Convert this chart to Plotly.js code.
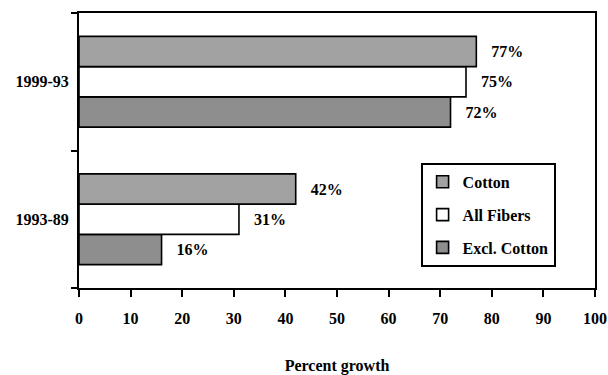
<!DOCTYPE html>
<html>
<head>
<meta charset="utf-8">
<script src="https://cdn.plot.ly/plotly-3.0.1.min.js"></script>
<style>html,body{margin:0;padding:0;background:#fff;}#chart{width:608px;height:375px;}</style>
</head>
<body>
<div id="chart"></div>
<script>
const categories = ['1993-89', '1999-93'];
const seriesNames = ['Excl. Cotton', 'All Fibers', 'Cotton'];
const exclCotton = [16, 72];
const allFibers = [31, 75];
const cotton = [42, 77];
const xTickVals = [0, 10, 20, 30, 40, 50, 60, 70, 80, 90, 100];
const xTitle = 'Percent growth';

const fills = ['#8e8e8e', '#ffffff', '#a2a2a2'];
const values = [exclCotton, allFibers, cotton];
const FONT = 'Liberation Serif, Times New Roman, serif';

const traces = values.map((v, i) => ({
  type: 'bar',
  orientation: 'h',
  name: seriesNames[i],
  legendgroup: 'g' + i,
  legendrank: 10 - i,
  y: categories,
  x: v,
  text: v.map(d => '\u00a0\u00a0\u00a0' + d + '%'),
  textposition: 'outside',
  cliponaxis: false,
  textfont: {family: FONT, size: 16, color: '#000', weight: 'bold'},
  marker: {color: fills[i], line: {color: '#000', width: 1.6}},
  hoverinfo: 'none'
}));

const layout = {
  width: 608, height: 375,
  margin: {l: 79, r: 13, t: 13, b: 87},
  paper_bgcolor: '#fff', plot_bgcolor: '#fff',
  font: {family: FONT, size: 16, color: '#000', weight: 'bold'},
  barmode: 'group', bargap: 0.34, bargroupgap: 0,
  showlegend: true,
  legend: {
    x: 0.662, y: 0.455, xanchor: 'left', yanchor: 'top',
    bgcolor: '#fff', bordercolor: '#000', borderwidth: 2,
    traceorder: 'grouped', tracegroupgap: 9,
    font: {family: FONT, size: 16, color: '#000', weight: 'bold'},
    itemwidth: 30
  },
  xaxis: {
    range: [0, 100], tickvals: xTickVals, ticktext: xTickVals.map(String),
    showgrid: false, zeroline: false,
    showline: true, linecolor: '#000', linewidth: 2, mirror: true,
    ticks: 'outside', ticklen: 7, tickwidth: 2, tickcolor: '#000',
    ticklabelstandoff: 8,
    tickfont: {family: FONT, size: 16, color: '#000', weight: 'bold'},
    title: {text: xTitle, standoff: 36, font: {family: FONT, size: 16, color: '#000', weight: 'bold'}}
  },
  yaxis: {
    type: 'category', categoryorder: 'array', categoryarray: categories,
    range: [-0.5, 1.5],
    showgrid: false, zeroline: false,
    showline: true, linecolor: '#000', linewidth: 2, mirror: true,
    ticks: 'outside', ticklen: 6, tickwidth: 2, tickcolor: '#000', tickson: 'boundaries',
    ticklabelstandoff: 5,
    tickfont: {family: FONT, size: 16, color: '#000', weight: 'bold'}
  }
};

Plotly.newPlot('chart', traces, layout, {staticPlot: true, displayModeBar: false});
</script>
</body>
</html>
